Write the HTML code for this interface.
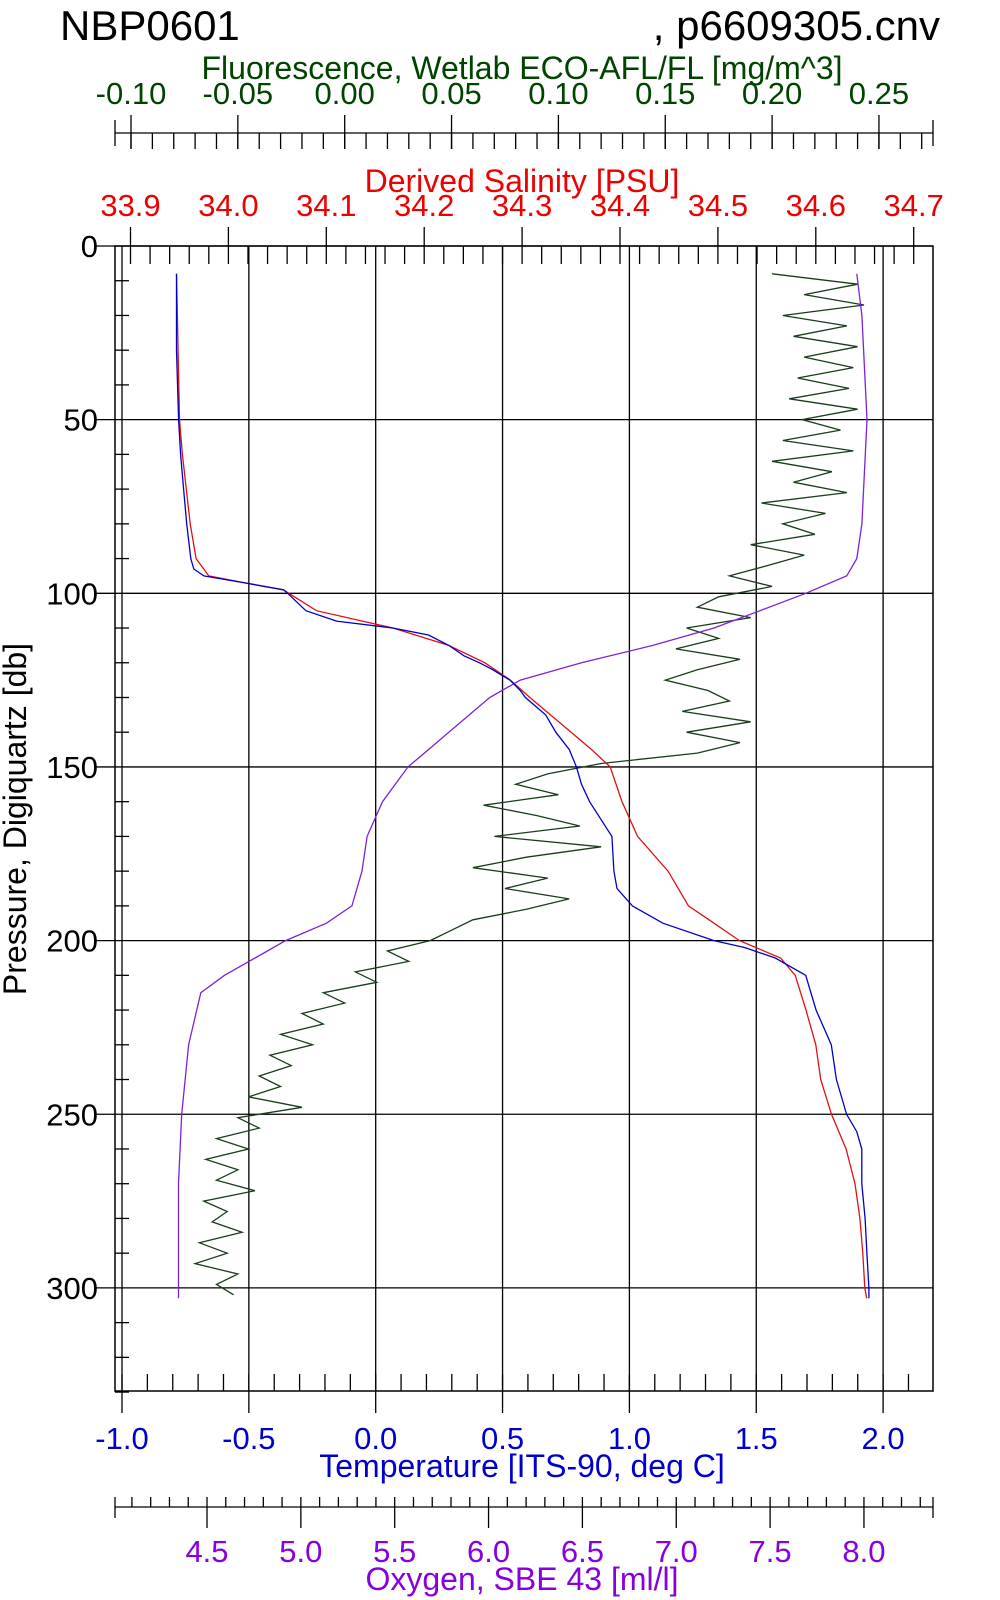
<!DOCTYPE html>
<html><head><meta charset="utf-8"><style>
body{margin:0;background:#fff}
svg{display:block;font-family:"Liberation Sans",Arial,sans-serif}
</style></head><body>
<svg id="chart" width="1000" height="1600" viewBox="0 0 1000 1600" xmlns="http://www.w3.org/2000/svg">
<text x="60" y="40" font-size="42">NBP0601</text>
<text x="940" y="40" font-size="42" text-anchor="end">, p6609305.cnv</text>
<g id="axes"></g>
<g id="series"></g>
</svg>
<script>
// ---- data ----
const tempPressure = [8,30,50,60,70,80,90,93,95,97,99,100,105,108,110,112,115,118,120,122,125,128,130,135,140,145,150,155,160,170,180,185,190,195,200,202,205,210,220,230,240,250,255,260,270,280,290,300,303];
const tempValues = [-0.785,-0.785,-0.777,-0.769,-0.757,-0.745,-0.729,-0.717,-0.677,-0.516,-0.363,-0.347,-0.275,-0.154,0.067,0.208,0.288,0.348,0.409,0.461,0.529,0.570,0.590,0.670,0.710,0.763,0.791,0.811,0.843,0.931,0.939,0.951,1.012,1.132,1.333,1.454,1.575,1.695,1.736,1.796,1.816,1.856,1.896,1.916,1.916,1.929,1.936,1.944,1.944];
const salPressure = [8,50,60,70,80,90,95,97,99,105,110,115,120,125,130,140,145,150,160,170,180,190,195,200,205,210,220,230,240,250,260,270,280,290,300,303];
const salValues = [33.947,33.950,33.953,33.957,33.961,33.967,33.980,34.017,34.056,34.090,34.168,34.225,34.262,34.288,34.308,34.350,34.371,34.390,34.402,34.418,34.449,34.470,34.496,34.522,34.564,34.579,34.590,34.600,34.605,34.616,34.631,34.640,34.645,34.648,34.650,34.652];
const oxyPressure = [8,20,50,80,90,95,100,105,110,115,120,125,130,140,145,150,160,170,180,190,195,200,205,210,215,230,250,270,290,303];
const oxyValues = [7.962,7.989,8.016,7.989,7.962,7.908,7.690,7.446,7.201,6.875,6.495,6.169,6.006,5.788,5.680,5.571,5.435,5.353,5.326,5.272,5.136,4.919,4.756,4.593,4.467,4.402,4.365,4.348,4.348,4.348];
const fluorStart = 8;
const fluorStep = 3;
const fluorValues = [0.200,0.240,0.215,0.243,0.205,0.235,0.210,0.240,0.215,0.238,0.212,0.236,0.208,0.240,0.214,0.232,0.205,0.238,0.200,0.228,0.210,0.235,0.195,0.225,0.205,0.220,0.190,0.215,0.198,
0.180,0.200,0.175,0.165,0.190,0.160,0.175,0.155,0.185,0.165,0.150,0.170,0.180,0.158,0.190,0.160,0.185,0.165,
0.120,0.095,0.080,0.100,0.065,0.090,0.110,0.070,0.120,0.085,0.060,0.095,0.075,0.105,0.085,0.060,0.050,0.040,
0.020,0.030,0.005,0.015,-0.010,0.000,-0.020,-0.010,-0.030,-0.015,-0.035,-0.025,-0.040,-0.030,-0.045,-0.020,
-0.050,-0.040,-0.060,-0.045,-0.065,-0.050,-0.060,-0.042,-0.066,-0.055,-0.062,-0.048,-0.068,-0.055,-0.070,-0.050,-0.060,-0.052];
const pressureTicks = [0,50,100,150,200,250,300];
const tempTicks = ["-1.0","-0.5","0.0","0.5","1.0","1.5","2.0"];
const salTicks = ["33.9","34.0","34.1","34.2","34.3","34.4","34.5","34.6","34.7"];
const fluorTicks = ["-0.10","-0.05","0.00","0.05","0.10","0.15","0.20","0.25"];
const oxyTicks = ["4.5","5.0","5.5","6.0","6.5","7.0","7.5","8.0"];

// ---- scales ----
const L=115, R=933, T=246, B=1391;
const yP = p => 246 + p*3.473;
const xT = v => 122 + (v+1)*253.7;
const xS = v => 130.5 + (v-33.9)*979;
const xF = v => 131 + (v+0.1)*2137;
const xO = v => 207 + (v-4.5)*187.7;
const TICKFS = 31, TITLEFS = 32;

const NS="http://www.w3.org/2000/svg";
const axes=document.getElementById('axes'), ser=document.getElementById('series');
function el(tag,attrs,parent,txt){const e=document.createElementNS(NS,tag);for(const k in attrs)e.setAttribute(k,attrs[k]);if(txt!==undefined)e.textContent=txt;parent.appendChild(e);return e;}
function ln(x1,y1,x2,y2,c,p){return el('line',{x1,y1,x2,y2,stroke:c||'#000','stroke-width':1.3},p||axes);}

const frame=el('rect',{x:L,y:T,width:R-L,height:B-T,fill:'none',stroke:'#000','stroke-width':1.5},axes);


tempTicks.forEach(t=>{const x=xT(+t);const g=ln(x,T,x,B+22);
 
 
 const tx=el('text',{x:x,y:1449,'font-size':TICKFS,fill:'#0000cc','text-anchor':'middle'},axes,t);
 
 });
for(let v=-1;v<=2.2001;v+=0.1){const x=xT(v);if(x<=R)ln(x,B-17,x,B);}
pressureTicks.forEach(p=>{const y=yP(p);const g=ln(L-20,y,R,y);
 
 
 const tx=el('text',{x:98,y:y+11,'font-size':TICKFS,'text-anchor':'end'},axes,String(p));
 
 });
for(let p=10;p<=330;p+=10){if(p%50)ln(L,yP(p),L+14,yP(p));}
salTicks.forEach(t=>{const x=xS(+t);ln(x,T-19,x,T);
 const tx=el('text',{x:x,y:216,'font-size':TICKFS,fill:'#ee0000','text-anchor':'middle'},axes,t);
 
 });
for(let v=33.88;v<=34.74;v+=0.02){const x=xS(v);if(x>L&&x<R)ln(x,T,x,T+18);}
ln(L,133,R,133);ln(L,120,L,146);ln(R,120,R,146);
fluorTicks.forEach(t=>{const x=xF(+t);ln(x,115,x,149);
 const tx=el('text',{x:x,y:104,'font-size':TICKFS,fill:'#004400','text-anchor':'middle'},axes,t);
 
 });
for(let v=-0.11;v<=0.28;v+=0.01){const x=xF(v);if(x>L&&x<R)ln(x,133,x,149);}
ln(L,1507,R,1507);ln(L,1497,L,1518);ln(R,1497,R,1518);
oxyTicks.forEach(t=>{const x=xO(+t);ln(x,1507,x,1528);
 const tx=el('text',{x:x,y:1562,'font-size':TICKFS,fill:'#8800dd','text-anchor':'middle'},axes,t);
 
 });
for(let v=4.1;v<=8.4;v+=0.1){const x=xO(v);if(x>L&&x<R)ln(x,1497,x,1507);}
[['fluorescence-axis-title',522,79,'#004400','Fluorescence, Wetlab ECO-AFL/FL [mg/m^3]'],
 ['salinity-axis-title',522,192,'#ee0000','Derived Salinity [PSU]'],
 ['temperature-axis-title',522,1477,'#0000cc','Temperature [ITS-90, deg C]'],
 ['oxygen-axis-title',522,1590,'#8800dd','Oxygen, SBE 43 [ml/l]']].forEach(a=>{
 const tx=el('text',{x:a[1],y:a[2],'font-size':TITLEFS,fill:a[3],'text-anchor':'middle'},axes,a[4]);
 
 });
const yl=el('text',{x:0,y:0,'font-size':TITLEFS,'text-anchor':'middle',transform:'translate(26,819) rotate(-90)'},axes,'Pressure, Digiquartz [db]');



function line(ps,vs,sx,color,name){const d=ps.map((p,i)=>(i?'L':'M')+sx(vs[i]).toFixed(1)+','+yP(p).toFixed(1)).join('');
 const e=el('path',{d,fill:'none',stroke:color,'stroke-width':1.3},ser);
 
 }
const fluorPressure=fluorValues.map((v,i)=>fluorStart+i*fluorStep);
line(fluorPressure,fluorValues,xF,'#1a3d1a','fluorescence-line');
line(oxyPressure,oxyValues,xO,'#7a22dd','oxygen-line');
line(salPressure,salValues,xS,'#e01010','salinity-line');
line(tempPressure,tempValues,xT,'#0000cc','temperature-line');
</script>
</body></html>
